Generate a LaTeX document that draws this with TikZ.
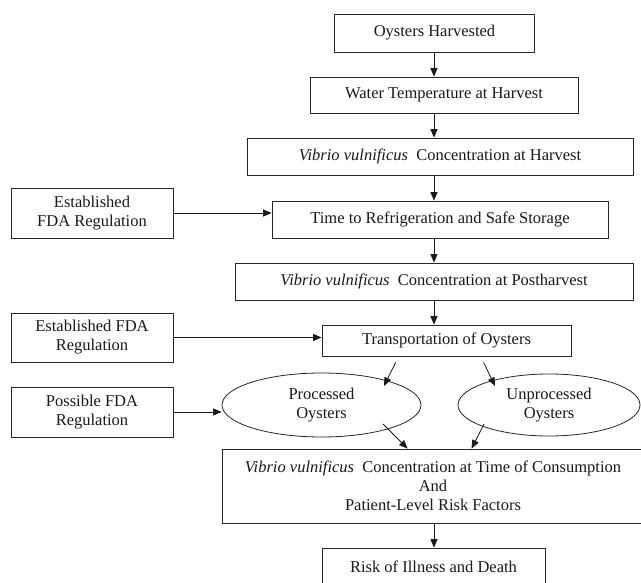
\documentclass[tikz,border=0pt]{standalone}
\usepackage{fontspec}
\setmainfont{Liberation Serif}
\usetikzlibrary{arrows.meta,shapes.geometric,calc}
\begin{document}
\begin{tikzpicture}[x=1pt,y=-1pt,
  every node/.style={font=\fontsize{16.5}{19}\selectfont, text=black!90},
  box/.style={draw=black!85, line width=0.8pt, rectangle, inner sep=0pt, align=center},
  oval/.style={draw=black!85, line width=0.8pt, ellipse, inner sep=0pt, align=center},
  arr/.style={draw=black!90, line width=0.8pt, -{Triangle[length=8.5pt,width=7pt]}}]
\useasboundingbox (0,0) rectangle (641,583);
\coordinate (ax) at (434,0);
\node[box, minimum width=200pt, minimum height=38pt] (oh) at (434.5,33) {Oysters Harvested};
\node[box, minimum width=268pt, minimum height=36pt] (wt) at (444,95) {Water Temperature at Harvest};
\node[box, minimum width=386pt, minimum height=37pt] (vh) at (440,156.5) {\textit{Vibrio vulnificus}\ \ Concentration at Harvest};
\node[box, minimum width=336pt, minimum height=37pt] (ts) at (440,219.5) {Time to Refrigeration and Safe Storage};
\node[box, minimum width=398pt, minimum height=37pt] (vp) at (434,281.5) {\textit{Vibrio vulnificus}\ \ Concentration at Postharvest};
\node[box, minimum width=249pt, minimum height=31pt] (tr) at (446.5,340.5) {Transportation of Oysters};
\node[oval, minimum width=199pt, minimum height=64pt] (proc) at (321.5,405) {Processed\\Oysters};
\node[oval, minimum width=182pt, minimum height=62pt] (unproc) at (549,405) {Unprocessed\\Oysters};
\node[box, minimum width=422pt, minimum height=74pt] (cons) at (433,486) {\textit{Vibrio vulnificus}\ \ Concentration at Time of Consumption\\And\\Patient-Level Risk Factors};
\node[box, minimum width=223pt, minimum height=38pt] (risk) at (433.5,567) {Risk of Illness and Death};
\node[box, minimum width=162pt, minimum height=50pt] (e1) at (92,213) {Established\\FDA Regulation};
\node[box, minimum width=162pt, minimum height=49pt] (e2) at (92,337.5) {Established FDA\\Regulation};
\node[box, minimum width=162pt, minimum height=50pt] (pf) at (92,412) {Possible FDA\\Regulation};
% main vertical arrows
\draw[arr] (oh.south -| ax) -- (wt.north -| ax);
\draw[arr] (wt.south -| ax) -- (vh.north -| ax);
\draw[arr] (vh.south -| ax) -- (ts.north -| ax);
\draw[arr] (ts.south -| ax) -- (vp.north -| ax);
\draw[arr] (vp.south -| ax) -- (tr.north -| ax);
\draw[arr] (cons.south -| ax) -- (risk.north -| ax);
% side inputs
\draw[arr] (e1.east) -- (e1.east -| ts.west);
\draw[arr] (e2.east) -- (e2.east -| tr.west);
\draw[arr] (pf.east) -- (pf.east -| proc.west);
% branches
\coordinate (t1) at ($(tr.south west)+(74,6)$);
\coordinate (p1) at ($(proc.center)+(62.5,-19)$);
\draw[arr] (t1) -- (p1);
\coordinate (t2) at ($(tr.south west)+(162,6)$);
\coordinate (u1) at ($(unproc.center)+(-54,-19)$);
\draw[arr] (t2) -- (u1);
\coordinate (p2) at ($(proc.center)+(61.5,19)$);
\coordinate (c1) at ($(cons.north west)+(186,0)$);
\draw[arr] (p2) -- (c1);
\coordinate (u2) at ($(unproc.center)+(-65,19)$);
\coordinate (c2) at ($(cons.north west)+(250,0)$);
\draw[arr] (u2) -- (c2);
\end{tikzpicture}
\end{document}
